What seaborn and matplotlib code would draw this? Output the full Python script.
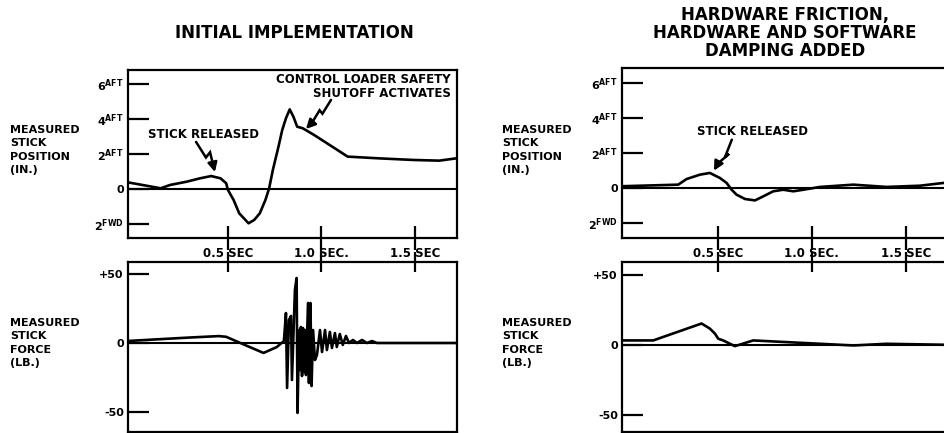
import numpy as np
import pandas as pd
import matplotlib.pyplot as plt
import seaborn as sns

# initial implementation: stick position (in., + = aft) vs time (sec)
pos_t_init = [-0.03, 0.14, 0.19, 0.28, 0.35, 0.41, 0.46, 0.49, 0.50, 0.53, 0.56,
              0.61, 0.64, 0.67, 0.70, 0.72, 0.74, 0.77, 0.79, 0.81, 0.83, 0.85,
              0.87, 0.90, 0.96, 1.03, 1.14, 1.31, 1.49, 1.63, 1.72]
pos_init = [0.37, 0.04, 0.23, 0.42, 0.61, 0.74, 0.61, 0.33, -0.06, -0.63, -1.39,
            -1.96, -1.77, -1.39, -0.63, 0.04, 1.09, 2.42, 3.37, 4.04, 4.55, 4.13,
            3.56, 3.47, 3.09, 2.61, 1.85, 1.75, 1.66, 1.62, 1.75]

# initial implementation: stick force (lb.)
force_t_init = [-0.03, 0.10, 0.30, 0.45, 0.49, 0.60, 0.69, 0.76, 0.799, 0.810,
                0.816, 0.826, 0.837, 0.842, 0.858, 0.867, 0.872, 0.880, 0.885,
                0.890, 0.896, 0.901, 0.906, 0.912, 0.917, 0.928, 0.933, 0.941,
                0.947, 0.955, 0.965, 0.976, 0.992, 1.003, 1.019, 1.029, 1.045,
                1.056, 1.072, 1.082, 1.098, 1.114, 1.131, 1.147, 1.168, 1.190,
                1.217, 1.243, 1.270, 1.297, 1.725]
force_init = [1.5, 2.5, 4.0, 5.0, 4.5, -2.0, -7.2, -3.0, 1.4, 21.7,
              -32.6, 16.7, 19.6, -26.8, 38.4, 47.1, -50.7, 9.4, -19.6,
              11.6, -23.9, 10.9, -21.0, 9.4, -23.2, 29.0, -29.0, 29.0,
              -31.2, 9.4, -12.3, -8.7, 9.4, -6.5, 9.4, -5.1, 8.0,
              -3.6, 7.2, -2.9, 6.5, -1.4, 5.1, 0.0, 2.2, 0.0,
              2.2, 0.0, 1.4, 0.0, 0.0]

# friction + damping added: stick position (in.)
pos_t_damp = [-0.01, 0.289, 0.333, 0.404, 0.457, 0.511, 0.546, 0.573, 0.599, 0.644,
              0.697, 0.741, 0.794, 0.847, 0.901, 0.954, 1.043, 1.220, 1.397, 1.574,
              1.702]
pos_damp = [0.10, 0.19, 0.51, 0.76, 0.86, 0.57, 0.29, -0.10, -0.38, -0.63,
            -0.71, -0.48, -0.19, -0.10, -0.19, -0.10, 0.06, 0.19, 0.06, 0.13,
            0.29]

# friction + damping added: stick force (lb.)
force_t_damp = [-0.02, 0.156, 0.413, 0.457, 0.484, 0.502, 0.528, 0.590, 0.688,
                0.865, 1.043, 1.220, 1.397, 1.702]
force_damp = [3.1, 3.1, 15.2, 11.6, 8.0, 4.3, 3.1, -1.0, 3.1,
              1.9, 0.7, -0.5, 0.7, 0.0]

pos_ticks = [6, 4, 2, 0, -2]
pos_ticklabels = [r"6$^{\mathbf{AFT}}$", r"4$^{\mathbf{AFT}}$", r"2$^{\mathbf{AFT}}$",
                  "0", r"2$^{\mathbf{FWD}}$"]
force_ticks = [50, 0, -50]
force_ticklabels = ["+50", "0", "-50"]
time_ticks = [0.5, 1.0, 1.5]
time_ticklabels = ["0.5 SEC", "1.0 SEC.", "1.5 SEC"]

titles = ["INITIAL IMPLEMENTATION",
          "HARDWARE FRICTION,\nHARDWARE AND SOFTWARE\nDAMPING ADDED"]
pos_label = "MEASURED\nSTICK\nPOSITION\n(IN.)"
force_label = "MEASURED\nSTICK\nFORCE\n(LB.)"

sns.set_style("white")
plt.rcParams["font.family"] = ["DejaVu Sans"]
plt.rcParams["font.weight"] = "bold"
plt.rcParams["mathtext.fontset"] = "dejavusans"
for k in ("text.color", "axes.labelcolor", "xtick.color", "ytick.color"):
    plt.rcParams[k] = "black"

W, H = 944, 433
fig = plt.figure(figsize=(W / 100, H / 100), dpi=100)


def px_axes(x0, y0, x1, y1):
    return fig.add_axes([x0 / W, 1 - y1 / H, (x1 - x0) / W, (y1 - y0) / H])


def style(ax, ticks, ticklabels, xlim, ylim, top_panel):
    for s in ax.spines.values():
        s.set_visible(True)
        s.set_color("black")
        s.set_linewidth(1.6)
    ax.axhline(0, color="black", lw=1.5, zorder=1)
    ax.set_xlim(*xlim)
    ax.set_ylim(*ylim)
    ax.set_yticks(ticks)
    ax.set_yticklabels(ticklabels, fontsize=8, fontweight="bold")
    ax.tick_params(axis="y", left=True, direction="in", length=15, width=1.6, pad=3)
    ax.set_xticks(time_ticks)
    if top_panel:
        ax.set_xticklabels(time_ticklabels, fontsize=8.5, fontweight="bold")
        ax.tick_params(axis="x", bottom=True, direction="inout", length=17, width=1.6, pad=-2)
    else:
        ax.set_xticklabels([])
        ax.tick_params(axis="x", bottom=False, top=True, direction="inout", length=14, width=1.6)
    ax.set_xlabel("")
    ax.set_ylabel("")


def lightning(ax, pts, tip):
    xs, ys = zip(*pts)
    ax.plot(xs, ys, color="black", lw=1.8, solid_joinstyle="miter")
    ax.annotate("", xy=tip, xytext=pts[-1],
                arrowprops=dict(arrowstyle="-|>,head_length=0.55,head_width=0.28",
                                color="black", lw=1.8, shrinkA=0, shrinkB=0))


line_kw = dict(color="black", linewidth=1.9, sort=False, estimator=None)

# ---- left column ----
ax1 = px_axes(128, 70, 457, 238)
sns.lineplot(data=pd.DataFrame({"t": pos_t_init, "x": pos_init}), x="t", y="x", ax=ax1, **line_kw)
style(ax1, pos_ticks, pos_ticklabels, (-0.035, 1.725), (-2.8, 6.8), True)
ax1.text(1.69, 5.83, "CONTROL LOADER SAFETY\nSHUTOFF ACTIVATES", ha="right", va="center",
         fontsize=8.5, fontweight="bold", linespacing=1.1)
ax1.text(0.07, 3.1, "STICK RELEASED", ha="left", va="center", fontsize=8.5, fontweight="bold")
lightning(ax1, [(1.051, 5.09), (1.005, 4.30), (0.990, 4.50), (0.950, 3.80)], (0.917, 3.43))
lightning(ax1, [(0.329, 2.69), (0.382, 1.80), (0.404, 2.10), (0.420, 1.40)], (0.430, 0.97))

ax2 = px_axes(128, 262, 457, 432)
sns.lineplot(data=pd.DataFrame({"t": force_t_init, "f": force_init}), x="t", y="f", ax=ax2, **line_kw)
style(ax2, force_ticks, force_ticklabels, (-0.035, 1.725), (-64.5, 58.7), False)

# ---- right column (runs off the page edge) ----
ax3 = px_axes(622, 68, 962, 238)
sns.lineplot(data=pd.DataFrame({"t": pos_t_damp, "x": pos_damp}), x="t", y="x", ax=ax3, **line_kw)
style(ax3, pos_ticks, pos_ticklabels, (-0.01, 1.798), (-2.86, 6.86), True)
ax3.text(0.39, 3.25, "STICK RELEASED", ha="left", va="center", fontsize=8.5, fontweight="bold")
lightning(ax3, [(0.574, 2.76), (0.537, 1.75), (0.559, 1.95), (0.500, 1.40)], (0.479, 0.99))

ax4 = px_axes(622, 262, 962, 432)
sns.lineplot(data=pd.DataFrame({"t": force_t_damp, "f": force_damp}), x="t", y="f", ax=ax4, **line_kw)
style(ax4, force_ticks, force_ticklabels, (-0.01, 1.798), (-62.4, 59.2), False)

# titles and axis captions
fig.text(294 / W, 1 - 33 / H, titles[0], ha="center", va="center", fontsize=12, fontweight="bold")
fig.text(785 / W, 1 - 33 / H, titles[1], ha="center", va="center", fontsize=12,
         fontweight="bold", linespacing=1.0)
for xl in (10, 502):
    fig.text(xl / W, 1 - 150 / H, pos_label, ha="left", va="center", fontsize=8,
             fontweight="bold", linespacing=1.4)
    fig.text(xl / W, 1 - 343 / H, force_label, ha="left", va="center", fontsize=8,
             fontweight="bold", linespacing=1.4)

fig.savefig("out.png", dpi=100)
